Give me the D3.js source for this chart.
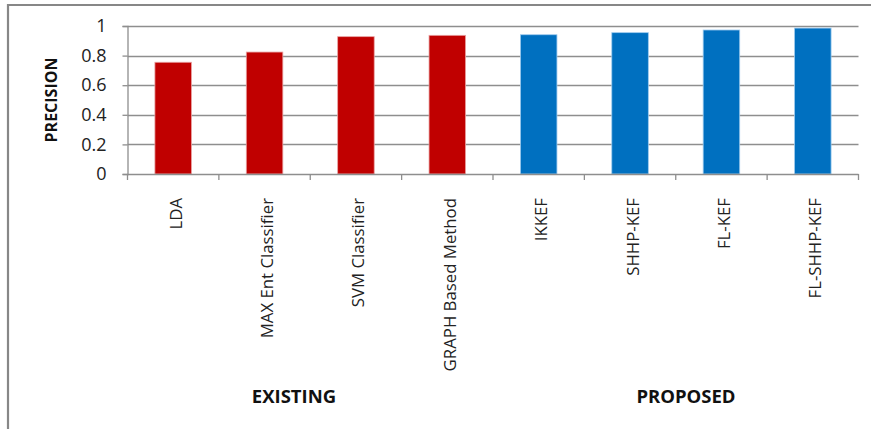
<!DOCTYPE html>
<html>
<head>
<meta charset="utf-8">
<script src="https://cdn.jsdelivr.net/npm/d3@7"></script>
<style>
  html, body { margin: 0; padding: 0; background: #fff; }
  svg { display: block; font-family: "Open Sans", "DejaVu Sans", sans-serif; }
</style>
</head>
<body>
<svg id="chart" width="871" height="429"></svg>
<script>
// Precision of each method
const categories = ["LDA", "MAX Ent Classifier", "SVM Classifier", "GRAPH Based Method",
                    "IKKEF", "SHHP-KEF", "FL-KEF", "FL-SHHP-KEF"];
const precision = [0.755, 0.824, 0.928, 0.937, 0.941, 0.955, 0.973, 0.986];
const groups = ["EXISTING", "EXISTING", "EXISTING", "EXISTING",
                "PROPOSED", "PROPOSED", "PROPOSED", "PROPOSED"];
const yTicks = [0, 0.2, 0.4, 0.6, 0.8, 1];
const yTitle = "PRECISION";

const groupColor = { EXISTING: "#C00000", PROPOSED: "#0070C0" };
const groupEdge = { EXISTING: "#e9a3a3", PROPOSED: "#9fcbee" };

const svg = d3.select("#chart");
const plot = { left: 127.5, right: 858.5, top: 26, bottom: 174 };

// outer frame (top and left edges)
svg.append("path")
  .attr("d", "M8,429 V5 H871")
  .attr("fill", "none")
  .attr("stroke", "#878787")
  .attr("stroke-width", 2.2);

const x = d3.scaleBand()
  .domain(categories)
  .range([plot.left, plot.right])
  .paddingInner(0.6)
  .paddingOuter(0.3);

const y = d3.scaleLinear()
  .domain([0, 1])
  .range([plot.bottom, plot.top]);

// horizontal gridlines
svg.append("g")
  .selectAll("line")
  .data(yTicks.filter(t => t > 0))
  .join("line")
  .attr("x1", plot.left)
  .attr("x2", plot.right)
  .attr("y1", d => Math.round(y(d)) + 0.5)
  .attr("y2", d => Math.round(y(d)) + 0.5)
  .attr("stroke", "#8e8e8e")
  .attr("stroke-width", 1.4);

// bars
svg.append("g")
  .selectAll("rect")
  .data(categories)
  .join("rect")
  .attr("x", d => x(d))
  .attr("width", x.bandwidth())
  .attr("y", (d, i) => y(precision[i]))
  .attr("height", (d, i) => y(0) - y(precision[i]))
  .attr("fill", (d, i) => groupColor[groups[i]])
  .attr("stroke", (d, i) => groupEdge[groups[i]])
  .attr("stroke-width", 0.8);

// y axis
const yAxis = d3.axisLeft(y)
  .tickValues(yTicks)
  .tickFormat(d3.format("~g"))
  .tickSize(5)
  .tickPadding(16);

const gy = svg.append("g")
  .attr("transform", `translate(${plot.left},0)`)
  .call(yAxis);
gy.select(".domain").attr("stroke", "#8e8e8e").attr("stroke-width", 1.3);
gy.selectAll(".tick line").attr("stroke", "#8e8e8e").attr("stroke-width", 1.3);
gy.selectAll(".tick text")
  .attr("fill", "#222")
  .style("font-size", "18px")
  .style("font-family", "'Open Sans', sans-serif");

// x axis baseline and category boundary ticks
const edges = d3.range(categories.length + 1)
  .map(i => plot.left + i * (plot.right - plot.left) / categories.length);
const gx = svg.append("g");
gx.append("line")
  .attr("x1", plot.left).attr("x2", plot.right)
  .attr("y1", plot.bottom + 0.5).attr("y2", plot.bottom + 0.5)
  .attr("stroke", "#8e8e8e").attr("stroke-width", 1.4);
gx.selectAll("line.tk")
  .data(edges)
  .join("line")
  .attr("class", "tk")
  .attr("x1", d => d).attr("x2", d => d)
  .attr("y1", plot.bottom).attr("y2", plot.bottom + 6)
  .attr("stroke", "#8e8e8e").attr("stroke-width", 1.3);

// rotated category labels
gx.selectAll("text.cat")
  .data(categories)
  .join("text")
  .attr("class", "cat")
  .attr("transform", d => `translate(${x(d) + x.bandwidth() / 2 + 8.5},198) rotate(-90)`)
  .attr("text-anchor", "end")
  .attr("fill", "#222")
  .style("font-size", "16.8px")
  .text(d => d);

// group labels beneath the categories
const groupLabels = [
  { name: "EXISTING", cx: 294 },
  { name: "PROPOSED", cx: 686 }
];
svg.selectAll("text.grp")
  .data(groupLabels)
  .join("text")
  .attr("class", "grp")
  .attr("x", d => d.cx)
  .attr("y", 403)
  .attr("text-anchor", "middle")
  .attr("fill", "#111")
  .style("font-size", "18.5px")
  .style("font-weight", "bold")
  .text(d => d.name);

// y axis title
svg.append("text")
  .attr("transform", `translate(57,${(plot.top + plot.bottom) / 2}) rotate(-90)`)
  .attr("text-anchor", "middle")
  .attr("fill", "#111")
  .style("font-size", "16px")
  .style("font-weight", "bold")
  .text(yTitle);
</script>
</body>
</html>
